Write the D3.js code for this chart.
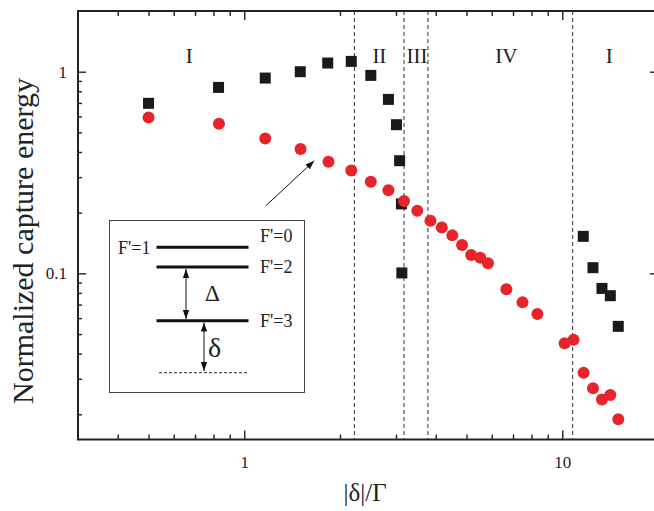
<!DOCTYPE html>
<html>
<head>
<meta charset="utf-8">
<script src="https://cdn.jsdelivr.net/npm/d3@7"></script>
<style>
    html, body { margin: 0; padding: 0; background: #fff; }
    svg { display: block; }
    text { font-family: 'Liberation Serif', serif; }
</style>
</head>
<body>
<svg id="chart-svg" width="654" height="511" font-family="Liberation Serif"></svg>
<script>
// square symbols (black)
const square_x = [0.5, 0.83, 1.164, 1.50, 1.83, 2.17, 2.50, 2.84, 3.01, 3.08, 3.12, 3.13, 11.64, 12.49, 13.33, 14.16, 15.0]
const square_y = [0.697, 0.836, 0.93, 1.0, 1.104, 1.125, 0.959, 0.729, 0.546, 0.362, 0.221, 0.1005, 0.1526, 0.1067, 0.0842, 0.0775, 0.0546]
// circle symbols (red)
const circle_x = [0.5, 0.8325, 1.164, 1.503, 1.84, 2.17, 2.50, 2.84, 3.18, 3.50, 3.85, 4.18, 4.51, 4.84, 5.17, 5.52, 5.84, 6.67, 7.50, 8.35, 10.17, 10.85, 11.67, 12.49, 13.33, 14.16, 15.0]
const circle_y = [0.593, 0.552, 0.467, 0.414, 0.358, 0.324, 0.285, 0.258, 0.2285, 0.2046, 0.1825, 0.169, 0.1543, 0.1383, 0.1234, 0.1196, 0.1121, 0.0833, 0.0718, 0.0629, 0.045, 0.0468, 0.0321, 0.0269, 0.0237, 0.0249, 0.0189]

// region boundaries and labels
const region_lines = [2.22, 3.18, 3.78, 10.78]
const region_names = ["I", "II", "III", "IV", "I"]
const region_pos = [0.671, 2.66, 3.49, 6.67, 14.06]

// ticks
const x_major = [1, 10]
const x_minor = [0.4, 0.5, 0.6, 0.7, 0.8, 0.9, 2, 3, 4, 5, 6, 7, 8, 9]
const y_major = [0.1, 1]
const y_minor = [0.02, 0.03, 0.04, 0.05, 0.06, 0.07, 0.08, 0.09, 0.2, 0.3, 0.4, 0.5, 0.6, 0.7, 0.8, 0.9]

const svg = d3.select("#chart-svg")
const plot_left = 78, plot_top = 11, plot_right = 658, plot_bottom = 439.5
const serif = "'Liberation Serif', serif"

const x = d3.scaleLog().domain([0.3, 20]).range([plot_left, plot_right])
const y = d3.scaleLog().domain([0.015, 2]).range([plot_bottom, plot_top])

const axis_color = "#222"

// axes: inward ticks on all four sides
function drawAxis(axisFn, scale, pos, values, size, labels) {
    let g = svg.append("g")
        .attr("transform", pos)
        .call(axisFn(scale).tickValues(values).tickSizeInner(size).tickSizeOuter(0)
            .tickPadding(labels ? 20 : 3)
            .tickFormat(labels ? d3.format("") : ""))
    g.attr("font-family", serif).attr("font-size", 17)
    g.select(".domain").remove()
    g.selectAll(".tick line").attr("stroke", axis_color).attr("stroke-width", 1.4)
    g.selectAll(".tick text")
        .style("font-family", serif)
        .attr("font-size", 17).attr("fill", "#222")
    return g
}
drawAxis(d3.axisBottom, x, `translate(0,${plot_bottom})`, x_major, -9, true)
    .selectAll(".tick text").attr("dy", "0").attr("y", 28)
drawAxis(d3.axisBottom, x, `translate(0,${plot_bottom})`, x_minor, -5, false)
drawAxis(d3.axisTop, x, `translate(0,${plot_top})`, x_major, -9, false)
drawAxis(d3.axisTop, x, `translate(0,${plot_top})`, x_minor, -5, false)
drawAxis(d3.axisLeft, y, `translate(${plot_left},0)`, y_major, -8, true)
    .selectAll(".tick text").attr("x", -11)
drawAxis(d3.axisLeft, y, `translate(${plot_left},0)`, y_minor, -4, false)
drawAxis(d3.axisRight, y, `translate(${plot_right},0)`, y_major, -8, false)
drawAxis(d3.axisRight, y, `translate(${plot_right},0)`, y_minor, -4, false)

// frame
svg.append("rect")
    .attr("x", plot_left).attr("y", plot_top)
    .attr("width", plot_right - plot_left).attr("height", plot_bottom - plot_top)
    .attr("fill", "none").attr("stroke", axis_color).attr("stroke-width", 2)

// dashed region boundaries
svg.selectAll(".region-line")
    .data(region_lines)
    .enter()
    .append("line")
    .attr("class", "region-line")
    .attr("x1", d => x(d)).attr("x2", d => x(d))
    .attr("y1", plot_top).attr("y2", plot_bottom)
    .attr("stroke", "#333").attr("stroke-width", 1)
    .attr("stroke-dasharray", "4,3")

svg.selectAll(".region-name")
    .data(region_names)
    .enter()
    .append("text")
    .attr("class", "region-name")
    .attr("x", (d, i) => x(region_pos[i]))
    .attr("y", 63)
    .attr("text-anchor", "middle")
    .attr("font-size", 21)
    .attr("fill", "#222")
    .text(d => d)

// data
const sq = 11
svg.selectAll(".sq")
    .data(square_x)
    .enter()
    .append("rect")
    .attr("class", "sq")
    .attr("x", (d, i) => x(d) - sq / 2)
    .attr("y", (d, i) => y(square_y[i]) - sq / 2)
    .attr("width", sq).attr("height", sq)
    .attr("fill", "#1a1a1a")

svg.selectAll(".ci")
    .data(circle_x)
    .enter()
    .append("circle")
    .attr("class", "ci")
    .attr("cx", d => x(d))
    .attr("cy", (d, i) => y(circle_y[i]))
    .attr("r", 6)
    .attr("fill", "#e8242b")

// arrow markers
const defs = svg.append("defs")
defs.append("marker")
    .attr("id", "head")
    .attr("viewBox", "0 0 10 10")
    .attr("refX", 10).attr("refY", 5)
    .attr("markerWidth", 9).attr("markerHeight", 9)
    .attr("markerUnits", "userSpaceOnUse")
    .attr("orient", "auto-start-reverse")
    .append("path")
    .attr("d", "M0,1.5 L10,5 L0,8.5 Z")
    .attr("fill", "#111")

// pointer from inset to the circles
svg.append("line")
    .attr("x1", x(1.17)).attr("y1", y(0.2166))
    .attr("x2", x(1.66)).attr("y2", y(0.362))
    .attr("stroke", "#111").attr("stroke-width", 1)
    .attr("marker-end", "url(#head)")

// inset level diagram
const inset = svg.append("g").attr("class", "inset")
inset.append("rect")
    .attr("x", 109.5).attr("y", 220.5)
    .attr("width", 195).attr("height", 172)
    .attr("fill", "#fff").attr("stroke", "#444").attr("stroke-width", 1)

const levels = [247.3, 267, 320.7]
inset.selectAll(".level")
    .data(levels)
    .enter()
    .append("line")
    .attr("class", "level")
    .attr("x1", 156.5).attr("x2", 248.5)
    .attr("y1", d => d).attr("y2", d => d)
    .attr("stroke", "#111").attr("stroke-width", 3)

inset.append("line")
    .attr("x1", 159).attr("x2", 248.5)
    .attr("y1", 372.7).attr("y2", 372.7)
    .attr("stroke", "#111").attr("stroke-width", 0.9)
    .attr("stroke-dasharray", "3,2")

inset.append("line")
    .attr("x1", 186).attr("x2", 186)
    .attr("y1", 269).attr("y2", 319)
    .attr("stroke", "#111").attr("stroke-width", 1)
    .attr("marker-start", "url(#head)").attr("marker-end", "url(#head)")
inset.append("line")
    .attr("x1", 204).attr("x2", 204)
    .attr("y1", 322.5).attr("y2", 371)
    .attr("stroke", "#111").attr("stroke-width", 1)
    .attr("marker-start", "url(#head)").attr("marker-end", "url(#head)")

const inset_labels = [
    { t: "F'=1", x: 150.5, y: 253.5, a: "end" },
    { t: "F'=0", x: 260, y: 241.5, a: "start" },
    { t: "F'=2", x: 260, y: 272.5, a: "start" },
    { t: "F'=3", x: 260, y: 326.5, a: "start" },
]
inset.selectAll(".lvl-text")
    .data(inset_labels)
    .enter()
    .append("text")
    .attr("class", "lvl-text")
    .attr("x", d => d.x).attr("y", d => d.y)
    .attr("text-anchor", d => d.a)
    .attr("font-size", 18)
    .attr("fill", "#222")
    .text(d => d.t)

inset.append("text")
    .attr("x", 212.5).attr("y", 301)
    .attr("text-anchor", "middle")
    .attr("font-size", 23).attr("fill", "#222")
    .text("Δ")
inset.append("text")
    .attr("x", 214.5).attr("y", 357)
    .attr("text-anchor", "middle")
    .attr("font-size", 28).attr("fill", "#222")
    .text("δ")

// axis titles
svg.append("text")
    .attr("transform", "translate(33,241) rotate(-90)")
    .attr("text-anchor", "middle")
    .attr("font-size", 30)
    .attr("fill", "#222")
    .text("Normalized capture energy")

svg.append("text")
    .attr("x", 365).attr("y", 501)
    .attr("text-anchor", "middle")
    .attr("font-size", 25)
    .attr("fill", "#222")
    .text("|δ|/Γ")

svg.selectAll("text").style("font-family", serif)
</script>
</body>
</html>
